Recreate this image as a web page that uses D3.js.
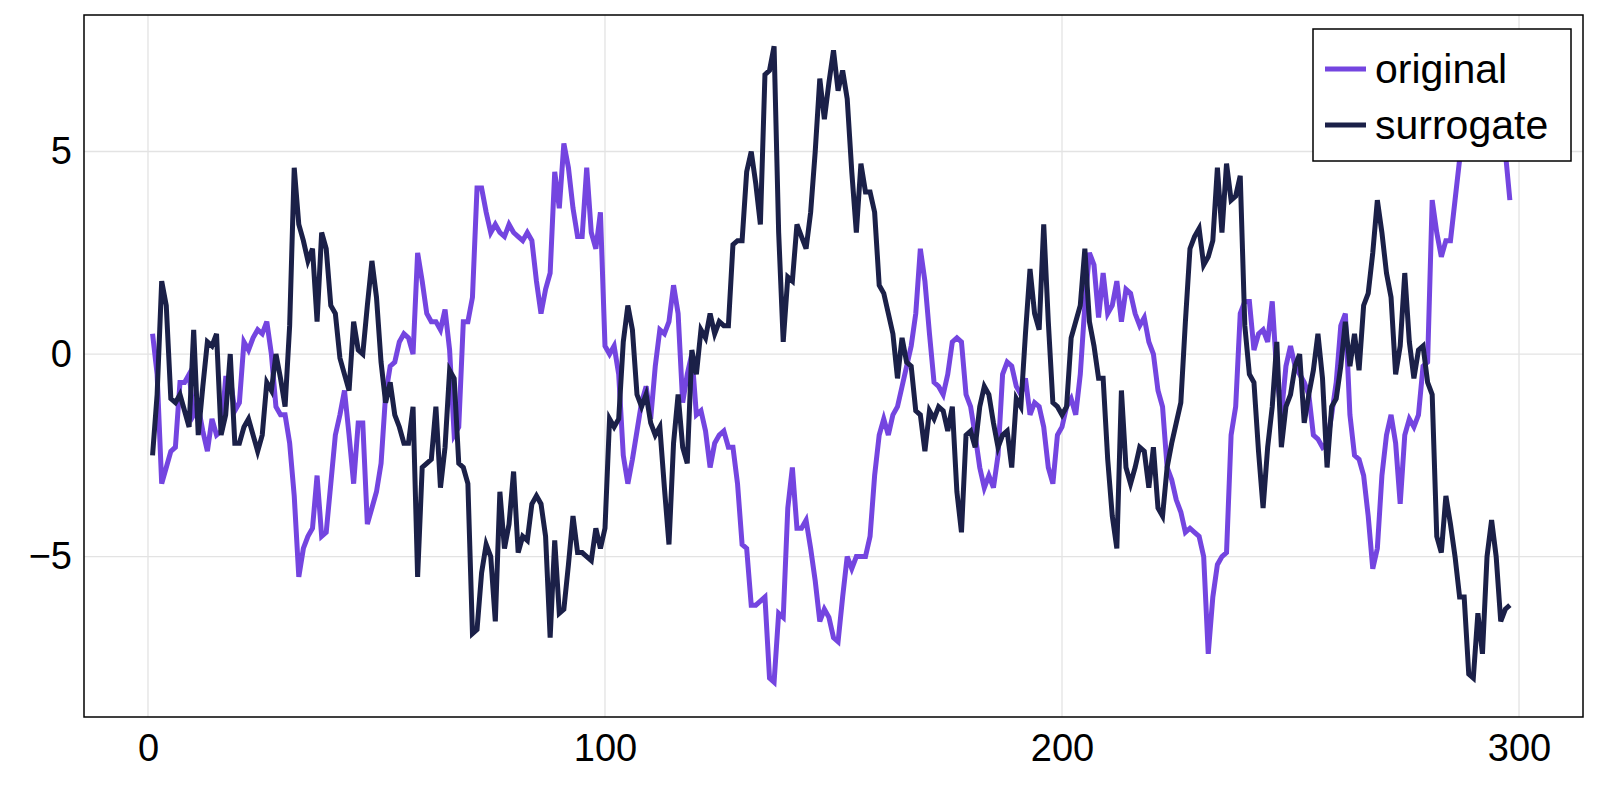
<!DOCTYPE html>
<html><head><meta charset="utf-8">
<script src="https://cdn.jsdelivr.net/npm/d3@7"></script>
<style>body{margin:0;background:#fff}svg{display:block}</style>
</head><body><svg id="c" width="1600" height="800"></svg>
<script>
const original = [
0.5,-0.5,-3.2,-2.8,-2.4,-2.3,-0.7,-0.7,-0.5,-1.5,
-1.3,-1.9,-2.4,-1.6,-2.0,-1.9,-0.6,-0.6,-1.4,-1.2,
0.3,0.1,0.4,0.6,0.5,0.8,0.0,-1.3,-1.5,-1.5,
-2.2,-3.5,-5.5,-4.8,-4.5,-4.3,-3.0,-4.5,-4.4,-3.2,
-2.0,-1.5,-0.9,-2.0,-3.2,-1.7,-1.7,-4.2,-3.8,-3.4,
-2.7,-1.0,-0.3,-0.2,0.3,0.5,0.4,0.0,2.5,1.8,
1.0,0.8,0.8,0.6,1.1,0.1,-2.0,-1.8,0.8,0.8,
1.4,4.1,4.1,3.5,3.0,3.2,3.0,2.9,3.2,3.0,
2.9,2.8,3.0,2.8,1.8,1.0,1.6,2.0,4.5,3.6,
5.2,4.6,3.6,2.9,2.9,4.6,3.0,2.6,3.5,0.2,
0.0,0.2,-0.5,-2.5,-3.2,-2.6,-1.9,-1.2,-0.8,-1.6,
-0.3,0.6,0.5,0.8,1.7,1.0,-1.2,-0.5,0.0,-1.5,
-1.4,-1.9,-2.8,-2.2,-2.0,-1.9,-2.3,-2.3,-3.2,-4.7,
-4.8,-6.2,-6.2,-6.1,-6.0,-8.0,-8.1,-6.4,-6.5,-3.8,
-2.8,-4.3,-4.3,-4.1,-4.8,-5.6,-6.6,-6.3,-6.5,-7.0,
-7.1,-6.0,-5.0,-5.3,-5.0,-5.0,-5.0,-4.5,-3.0,-2.0,
-1.6,-2.0,-1.5,-1.3,-0.8,-0.3,0.2,1.0,2.6,1.8,
0.5,-0.7,-0.8,-1.0,-0.5,0.3,0.4,0.3,-1.0,-1.3,
-2.0,-2.8,-3.3,-3.0,-3.3,-2.5,-0.5,-0.2,-0.3,-0.8,
-1.0,-0.6,-1.5,-1.2,-1.3,-1.8,-2.8,-3.2,-2.0,-1.8,
-1.3,-1.1,-1.5,-0.5,1.2,2.5,2.2,0.9,2.0,1.0,
1.2,1.8,0.8,1.6,1.5,1.0,0.7,0.9,0.3,0.0,
-0.9,-1.3,-2.8,-3.1,-3.6,-3.9,-4.4,-4.3,-4.4,-4.5,
-5.0,-7.4,-6.0,-5.2,-5.0,-4.9,-2.0,-1.3,1.0,1.3,
1.3,0.1,0.5,0.6,0.3,1.3,-0.5,-1.5,-0.3,0.2,
-0.3,-0.5,-0.7,-1.0,-2.0,-2.1,-2.3,-2.2,-1.5,-0.7,
0.7,1.0,-1.5,-2.5,-2.6,-3.0,-4.0,-5.3,-4.8,-3.0,
-2.0,-1.5,-2.2,-3.7,-2.0,-1.6,-1.8,-1.5,-0.3,-0.2,
3.8,3.0,2.4,2.8,2.8,3.8,4.8,5.0,5.5,5.8,
6.0,5.8,5.5,5.2,5.5,5.8,5.0,3.8];
const surrogate = [
-2.5,-1.0,1.8,1.2,-1.1,-1.2,-1.0,-1.4,-1.8,0.6,
-2.0,-0.8,0.3,0.2,0.5,-2.0,-1.5,0.0,-2.2,-2.2,
-1.8,-1.6,-2.0,-2.4,-2.0,-0.7,-0.9,0.0,-0.6,-1.3,
0.7,4.6,3.2,2.8,2.3,2.6,0.8,3.0,2.6,1.2,
1.0,-0.1,-0.5,-0.9,0.8,0.1,0.0,1.2,2.3,1.4,
-0.2,-1.2,-0.7,-1.5,-1.8,-2.2,-2.2,-1.3,-5.5,-2.8,
-2.7,-2.6,-1.3,-3.3,-2.3,-0.4,-0.6,-2.7,-2.8,-3.2,
-6.9,-6.8,-5.4,-4.7,-5.0,-6.6,-3.4,-4.8,-4.2,-2.9,
-4.9,-4.5,-4.6,-3.7,-3.5,-3.7,-4.5,-7.0,-4.6,-6.4,
-6.3,-5.2,-4.0,-4.9,-4.9,-5.0,-5.1,-4.3,-4.8,-4.3,
-1.6,-1.8,-1.6,0.3,1.2,0.6,-1.0,-1.3,-1.0,-1.7,
-2.0,-1.8,-3.3,-4.7,-2.2,-1.0,-2.3,-2.7,0.1,-0.5,
0.6,0.4,1.0,0.5,0.8,0.7,0.7,2.7,2.8,2.8,
4.5,5.0,4.2,3.2,6.9,7.0,7.6,3.0,0.3,1.9,
1.8,3.2,2.9,2.6,3.5,5.0,6.8,5.8,6.7,7.5,
6.5,7.0,6.3,4.5,3.0,4.7,4.0,4.0,3.5,1.7,
1.5,1.0,0.5,-0.6,0.4,-0.2,-0.3,-1.4,-1.5,-2.4,
-1.4,-1.6,-1.3,-1.4,-1.9,-1.3,-3.4,-4.4,-2.0,-1.9,
-2.3,-1.3,-0.8,-1.0,-1.7,-2.3,-2.0,-1.9,-2.8,-1.1,
-1.3,0.5,2.1,1.0,0.6,3.2,0.8,-1.2,-1.3,-1.5,
-1.3,0.4,0.8,1.2,2.6,0.8,0.2,-0.6,-0.6,-2.6,
-4.0,-4.8,-0.9,-2.8,-3.2,-2.8,-2.3,-2.4,-3.3,-2.3,
-3.8,-4.0,-2.8,-2.2,-1.7,-1.2,0.8,2.6,2.9,3.1,
2.2,2.4,2.8,4.6,3.0,4.7,3.8,3.9,4.4,0.7,
-0.5,-0.7,-2.4,-3.8,-2.3,-1.3,0.3,-2.3,-1.3,-1.0,
-0.3,0.0,-1.7,-1.0,-0.4,0.5,-0.6,-2.8,-1.3,-1.1,
-0.3,0.8,-0.3,0.5,-0.4,1.2,1.5,2.5,3.8,3.0,
2.0,1.4,-0.5,0.2,2.0,0.3,-0.6,0.1,0.2,-0.7,
-1.0,-4.5,-4.9,-3.5,-4.2,-5.0,-6.0,-6.0,-7.9,-8.0,
-6.4,-7.4,-5.0,-4.1,-5.0,-6.6,-6.3,-6.2];
const seriesNames = ["original","surrogate"];
const seriesColors = ["#7445e0","#1b2048"];
const xTicks = [0,100,200,300];
const yTicks = [-5,0,5];

const svg = d3.select("#c");
const L=84,R=1583,T=15,B=717;
const x = d3.scaleLinear().domain([-14,314]).range([L,R]);
const y = d3.scaleLinear().domain([-8.96,8.37]).range([B,T]);
const g = svg.append("g");
g.selectAll(".gx").data(xTicks).join("line").attr("x1",d=>x(d)).attr("x2",d=>x(d)).attr("y1",T).attr("y2",B).attr("stroke","#e3e3e3").attr("stroke-width",1.3);
g.selectAll(".gy").data(yTicks).join("line").attr("y1",d=>y(d)).attr("y2",d=>y(d)).attr("x1",L).attr("x2",R).attr("stroke","#e3e3e3").attr("stroke-width",1.3);
const fmt = d => d<0 ? "\u2212"+Math.abs(d) : String(d);
const xa = svg.append("g").attr("transform",`translate(0,${B})`).call(d3.axisBottom(x).tickValues(xTicks).tickFormat(fmt).tickSize(0).tickPadding(14));
const ya = svg.append("g").attr("transform",`translate(${L},0)`).call(d3.axisLeft(y).tickValues(yTicks).tickFormat(fmt).tickSize(0).tickPadding(12));
[xa,ya].forEach(a=>{a.select(".domain").remove();a.selectAll("text").attr("font-family","Liberation Sans, Arial, sans-serif").attr("font-size",38).attr("fill","#000");});
xa.selectAll("text").attr("dy","0.8em");
const data=[original,surrogate];
const line = d3.line().x((d,i)=>x(i+1)).y(d=>y(d));
data.forEach((s,k)=>{
  svg.append("path").datum(s).attr("d",line).attr("fill","none").attr("stroke",seriesColors[k]).attr("stroke-width",5).attr("stroke-linejoin","miter");
});
svg.append("rect").attr("x",L).attr("y",T).attr("width",R-L).attr("height",B-T).attr("fill","none").attr("stroke","#000").attr("stroke-width",1.5);
const lg = svg.append("g");
lg.append("rect").attr("x",1313).attr("y",29).attr("width",258).attr("height",132).attr("fill","#fff").attr("stroke","#000").attr("stroke-width",1.5);
seriesNames.forEach((n,i)=>{
  const cy=69+i*56;
  lg.append("line").attr("x1",1325).attr("x2",1366).attr("y1",cy).attr("y2",cy).attr("stroke",seriesColors[i]).attr("stroke-width",5);
  lg.append("text").attr("x",1375).attr("y",cy).attr("dy","0.35em").attr("font-family","Liberation Sans, Arial, sans-serif").attr("font-size",41).text(n);
});
</script></body></html>
